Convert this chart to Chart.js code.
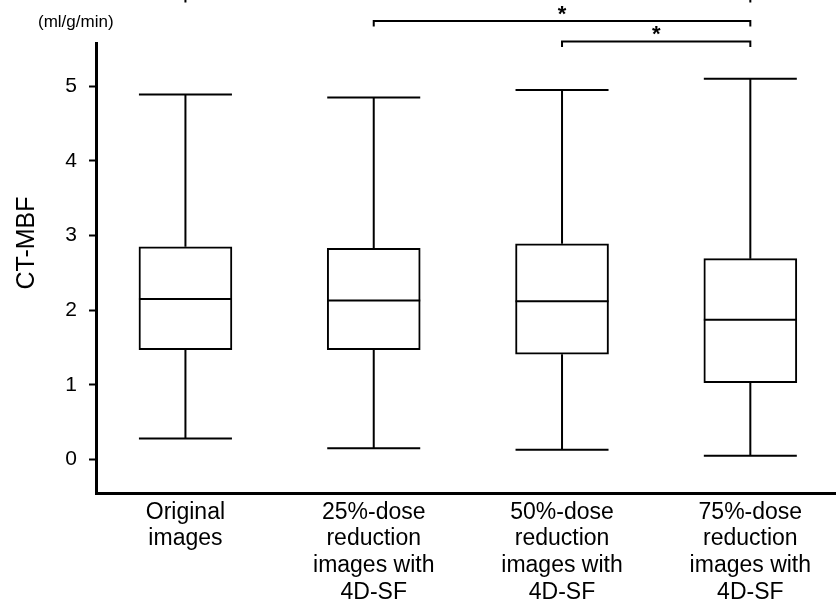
<!DOCTYPE html>
<html>
<head>
<meta charset="utf-8">
<script src="https://cdn.jsdelivr.net/npm/chart.js@4.4.1/dist/chart.umd.min.js"></script>
<style>
  html, body { margin: 0; padding: 0; background: #fff; overflow: hidden; }
  #wrap { width: 836px; height: 601px; position: relative; }
</style>
</head>
<body>
<div id="wrap"><canvas id="boxChart"></canvas></div>
<script>
// box plot values (ml/g/min)
const categories = [
    ['Original', 'images'],
    ['25%-dose', 'reduction', 'images with', '4D-SF'],
    ['50%-dose', 'reduction', 'images with', '4D-SF'],
    ['75%-dose', 'reduction', 'images with', '4D-SF']
];
const whiskerMin = [0.28, 0.15, 0.13, 0.05];
const q1 = [1.47, 1.47, 1.41, 1.03];
const median = [2.15, 2.13, 2.12, 1.87];
const q3 = [2.85, 2.83, 2.89, 2.69];
const whiskerMax = [4.89, 4.85, 4.95, 5.10];
const yTicks = [0, 1, 2, 3, 4, 5];

// significance brackets: [from, to] group index
const sigPairs = [[0, 3], [1, 3], [2, 3]];
const sigLabels = ['*', '*', '*'];

const FONT = '"Liberation Sans", Arial, Helvetica, sans-serif';

document.addEventListener("DOMContentLoaded", () => {
    const ctx = document.getElementById("boxChart").getContext("2d");

    // whiskers, medians, brackets and axis texts
    const boxExtras = {
        id: 'boxExtras',
        afterDatasetsDraw(chart) {
            const { ctx } = chart;
            const x = chart.scales.x;
            const y = chart.scales.y;
            const half = 46.5;
            ctx.save();
            ctx.strokeStyle = '#000';
            ctx.lineWidth = 2;
            for (let i = 0; i < median.length; i++) {
                const cx = x.getPixelForValue(i);
                ctx.beginPath();
                // upper whisker
                ctx.moveTo(cx, y.getPixelForValue(q3[i]));
                ctx.lineTo(cx, y.getPixelForValue(whiskerMax[i]));
                ctx.moveTo(cx - half, y.getPixelForValue(whiskerMax[i]));
                ctx.lineTo(cx + half, y.getPixelForValue(whiskerMax[i]));
                // lower whisker
                ctx.moveTo(cx, y.getPixelForValue(q1[i]));
                ctx.lineTo(cx, y.getPixelForValue(whiskerMin[i]));
                ctx.moveTo(cx - half, y.getPixelForValue(whiskerMin[i]));
                ctx.lineTo(cx + half, y.getPixelForValue(whiskerMin[i]));
                // median
                ctx.moveTo(cx - half, y.getPixelForValue(median[i]));
                ctx.lineTo(cx + half, y.getPixelForValue(median[i]));
                ctx.stroke();
            }
            ctx.restore();
        },
        afterDraw(chart) {
            const { ctx } = chart;
            const x = chart.scales.x;
            const bracketY = [-3, 21, 41.5];
            ctx.save();
            ctx.strokeStyle = '#000';
            ctx.fillStyle = '#000';
            ctx.lineWidth = 2;
            sigPairs.forEach((p, k) => {
                const x1 = x.getPixelForValue(p[0]);
                const x2 = x.getPixelForValue(p[1]);
                const by = bracketY[k];
                ctx.beginPath();
                ctx.moveTo(x1, by + 5.5);
                ctx.lineTo(x1, by);
                ctx.lineTo(x2, by);
                ctx.lineTo(x2, by + 5.5);
                ctx.stroke();
                ctx.font = 'bold 22px ' + FONT;
                ctx.textAlign = 'center';
                ctx.textBaseline = 'alphabetic';
                ctx.fillText(sigLabels[k], (x1 + x2) / 2, by - 0.5);
            });

            // unit label
            ctx.font = '17px ' + FONT;
            ctx.textAlign = 'left';
            ctx.textBaseline = 'middle';
            ctx.fillText('(ml/g/min)', 38, 22);

            // y axis title
            ctx.translate(27, 243);
            ctx.rotate(-Math.PI / 2);
            ctx.font = '25px ' + FONT;
            ctx.textAlign = 'center';
            ctx.textBaseline = 'middle';
            ctx.fillText('CT-MBF', 0, 0);
            ctx.restore();
        }
    };

    const chart = new Chart(ctx, {
        type: 'bar',
        data: {
            datasets: [{
                label: 'CT-MBF',
                data: q1.map((v, i) => ({ x: i, y: [v, q3[i]] })),
                backgroundColor: '#ffffff',
                borderColor: '#000000',
                borderWidth: 2,
                borderSkipped: false,
                barThickness: 93
            }]
        },
        options: {
            responsive: true,
            maintainAspectRatio: false,
            animation: false,
            layout: { padding: { top: 43, left: 0, right: 0, bottom: 0 } },
            plugins: {
                legend: { display: false },
                tooltip: { enabled: false }
            },
            scales: {
                x: {
                    type: 'linear',
                    min: -0.475,
                    max: 3.455,
                    offset: false,
                    afterBuildTicks: (scale) => {
                        scale.ticks = categories.map((c, i) => ({ value: i }));
                    },
                    afterFit: (scale) => { scale.height = 108; },
                    grid: { offset: false, drawOnChartArea: false, drawTicks: false },
                    border: { display: true, color: '#000', width: 3 },
                    ticks: {
                        autoSkip: false,
                        maxRotation: 0,
                        padding: 6,
                        color: '#000',
                        font: { family: FONT, size: 23, lineHeight: 1.16 },
                        callback: (value) => categories[value]
                    }
                },
                y: {
                    min: -0.45,
                    max: 5.58,
                    afterBuildTicks: (scale) => {
                        scale.ticks = yTicks.map(v => ({ value: v }));
                    },
                    afterFit: (scale) => { scale.width = 96; },
                    grid: {
                        drawOnChartArea: false,
                        drawTicks: true,
                        tickLength: 7,
                        tickWidth: 2,
                        tickColor: '#000'
                    },
                    border: { display: true, color: '#000', width: 3 },
                    ticks: {
                        padding: 12,
                        color: '#000',
                        font: { family: FONT, size: 21 }
                    }
                }
            }
        },
        plugins: [boxExtras]
    });
});
</script>
</body>
</html>
